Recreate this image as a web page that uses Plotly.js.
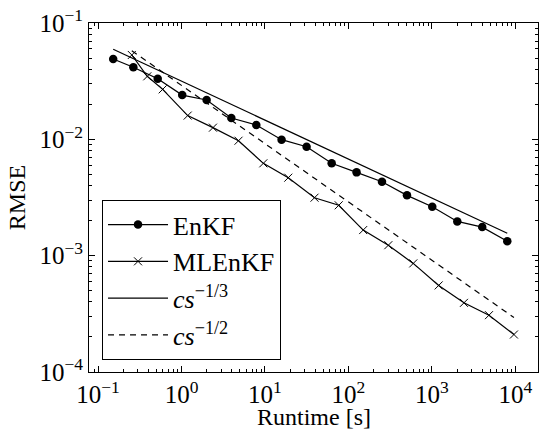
<!DOCTYPE html>
<html>
<head>
<meta charset="utf-8">
<script src="https://cdn.plot.ly/plotly-3.0.1.min.js"></script>
<style>html,body{margin:0;padding:0;background:#fff;}#chart{width:539px;height:430px;}</style>
</head>
<body>
<div id="chart"></div>
<script>
// Data
const enkfRuntime = [0.152, 0.265, 0.519, 1.02, 2.00, 3.95, 7.87, 15.8, 31.5, 62.9, 125, 252, 502, 1008, 2010, 4000, 7980];
const enkfRMSE = [0.0490, 0.0416, 0.0332, 0.0240, 0.0218, 0.01525, 0.01327, 0.00993, 0.00864, 0.00622, 0.00520, 0.00432, 0.00330, 0.00263, 0.00197, 0.00176, 0.00133];
const mlenkfRuntime = [0.254, 0.389, 0.595, 1.186, 2.38, 4.82, 9.55, 19.0, 39.2, 76.4, 150, 300, 597, 1203, 2415, 4816, 9590];
const mlenkfRMSE = [0.0531, 0.0348, 0.0269, 0.0160, 0.0126, 0.00973, 0.00622, 0.00468, 0.00315, 0.00271, 0.00166, 0.00123, 0.000858, 0.000555, 0.000393, 0.000308, 0.000210];
const ref13Runtime = [0.152, 7980];
const ref13RMSE = [0.0594, 0.00156];
const ref12Runtime = [0.254, 9590];
const ref12RMSE = [0.0578, 0.000294];
const xTickVals = [0.1, 1, 10, 100, 1000, 10000];
const xTickText = ['10<sup>−1</sup>', '10<sup>0</sup>', '10<sup>1</sup>', '10<sup>2</sup>', '10<sup>3</sup>', '10<sup>4</sup>'];
const yTickVals = [0.0001, 0.001, 0.01, 0.1];
const yTickText = ['10<sup>−4</sup>', '10<sup>−3</sup>', '10<sup>−2</sup>', '10<sup>−1</sup>'];
const xTitle = 'Runtime [s]';
const yTitle = 'RMSE';

const serifFamily = 'Liberation Serif';
const traces = [
  {x: enkfRuntime, y: enkfRMSE, name: 'EnKF', mode: 'lines+markers',
   line: {color: '#000', width: 1.2}, marker: {symbol: 'circle', size: 8.5, color: '#000'}},
  {x: mlenkfRuntime, y: mlenkfRMSE, name: 'MLEnKF', mode: 'lines+markers',
   line: {color: '#000', width: 1.2}, marker: {symbol: 'x-thin', size: 8, color: '#000', line: {color: '#000', width: 1}}},
  {x: ref13Runtime, y: ref13RMSE, name: '<i>cs</i><sup>−1/3</sup>', mode: 'lines',
   line: {color: '#000', width: 1.2}},
  {x: ref12Runtime, y: ref12RMSE, name: '<i>cs</i><sup>−1/2</sup>', mode: 'lines',
   line: {color: '#000', width: 1.2, dash: '6px,5px'}}
];
function axisCommon() {
  return {
    type: 'log', showgrid: false, zeroline: false, showline: true, linecolor: '#000', linewidth: 1,
    mirror: 'allticks', ticks: 'inside', ticklen: 6, tickwidth: 1, tickcolor: '#000',
    minor: {ticks: 'inside', ticklen: 3, tickwidth: 1, tickcolor: '#000', dtick: 'D1', showgrid: false},
    tickfont: {family: serifFamily, size: 25, color: '#000'}, automargin: false
  };
}
const layout = {
  width: 539, height: 430,
  margin: {l: 89, r: 1, t: 23, b: 58},
  paper_bgcolor: '#fff', plot_bgcolor: '#fff',
  font: {family: serifFamily, size: 24, color: '#000'},
  showlegend: true,
  xaxis: Object.assign(axisCommon(), {
    range: [-1.108, 4.27], tickmode: 'array', tickvals: xTickVals, ticktext: xTickText
  }),
  yaxis: Object.assign(axisCommon(), {
    range: [-4, -1], tickmode: 'array', tickvals: yTickVals, ticktext: yTickText,
    title: {text: yTitle, font: {family: serifFamily, size: 24, color: '#000'}, standoff: 6}
  }),
  annotations: [{
    text: xTitle, xref: 'paper', yref: 'paper', x: 0.5, y: -0.166, yshift: -2, xanchor: 'center', yanchor: 'bottom',
    showarrow: false, font: {family: serifFamily, size: 24, color: '#000'}
  }],
  legend: {
    x: 0.029, y: 0.034, xanchor: 'left', yanchor: 'bottom',
    bgcolor: '#fff', bordercolor: '#000', borderwidth: 1, itemwidth: 60,
    font: {family: serifFamily, size: 26, color: '#000'}
  }
};
Plotly.newPlot('chart', traces, layout, {displayModeBar: false, staticPlot: true});
</script>
</body>
</html>
